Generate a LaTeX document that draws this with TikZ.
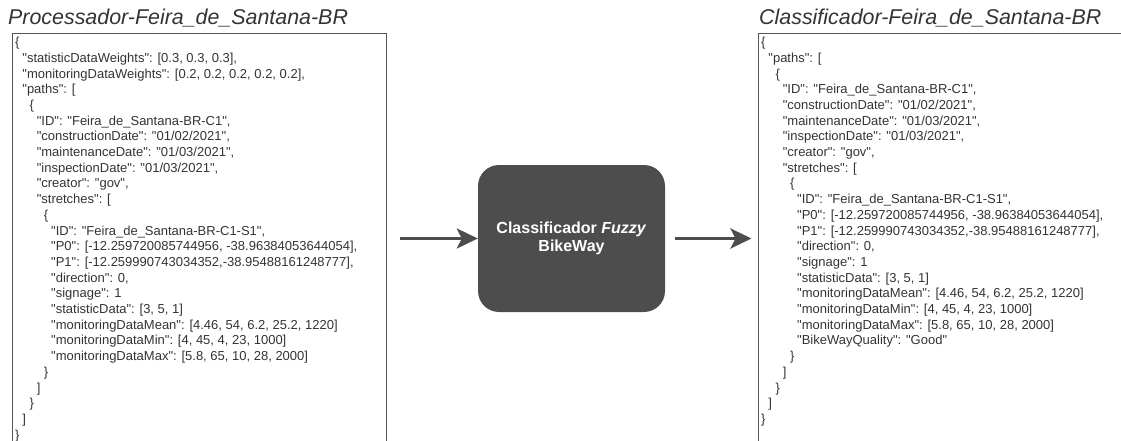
\documentclass[tikz,border=0pt]{standalone}
\usepackage{fontspec}
\usetikzlibrary{arrows.meta}
% plain family: keeps the straight ASCII quotes of the JSON text
\newfontfamily\jsonfont{Liberation Sans}
\definecolor{inkgray}{HTML}{333333}
\definecolor{framegray}{HTML}{555555}
\definecolor{blockgray}{HTML}{4D4D4D}
\newlength\jsonstep
\setlength\jsonstep{7.2pt}
\newcommand\lv[1]{\hspace*{#1\jsonstep}}
\begin{document}
\begin{tikzpicture}[x=1pt,y=-1pt,
  doctitle/.style={anchor=base west, inner sep=0pt, text=inkgray,
    font=\jsonfont\fontsize{21.4}{25}\selectfont\itshape},
  docframe/.style={draw=framegray, line width=1.3pt, anchor=north west,
    inner sep=0pt, minimum width=#1, minimum height=440pt},
  jsontext/.style={anchor=north west, inner sep=0pt, align=left, text=inkgray,
    font=\jsonfont\fontsize{13}{15.7}\selectfont},
  engine/.style={fill=blockgray, rounded corners=21pt, minimum width=187pt,
    minimum height=147pt, inner sep=0pt, align=center, text=white,
    font=\jsonfont\fontsize{16}{18.3}\selectfont\bfseries},
  flow/.style={draw=blockgray, line width=3.3pt,
    -{Stealth[length=21pt, width=20pt, inset=5pt]}}
]
\useasboundingbox (0,0) rectangle (1121,441);
\clip (0,0) rectangle (1121,441);

% document titles
\node[doctitle] (ltitle) at (8,25) {Processador-Feira\_de\_Santana-BR};
\node[doctitle] (rtitle) at (759,25) {Classificador-Feira\_de\_Santana-BR};

% document frames (run past the lower and right edges)
\node[docframe=374pt] (lbox) at (11.5,33) {};
\node[docframe=380pt] (rbox) at (757.5,33) {};

% input document
\node[jsontext] (ltext) at (15,36.4) {\rule{0pt}{10pt}\{\\
\lv{1}"statisticDataWeights": [0.3, 0.3, 0.3],\\
\lv{1}"monitoringDataWeights": [0.2, 0.2, 0.2, 0.2, 0.2],\\
\lv{1}"paths": [\\
\lv{2}\{\\
\lv{3}"ID": "Feira\_de\_Santana-BR-C1",\\
\lv{3}"constructionDate": "01/02/2021",\\
\lv{3}"maintenanceDate": "01/03/2021",\\
\lv{3}"inspectionDate": "01/03/2021",\\
\lv{3}"creator": "gov",\\
\lv{3}"stretches": [\\
\lv{4}\{\\
\lv{5}"ID": "Feira\_de\_Santana-BR-C1-S1",\\
\lv{5}"P0": [-12.259720085744956, -38.96384053644054],\\
\lv{5}"P1": [-12.259990743034352,-38.95488161248777],\\
\lv{5}"direction": 0,\\
\lv{5}"signage": 1\\
\lv{5}"statisticData": [3, 5, 1]\\
\lv{5}"monitoringDataMean": [4.46, 54, 6.2, 25.2, 1220]\\
\lv{5}"monitoringDataMin": [4, 45, 4, 23, 1000]\\
\lv{5}"monitoringDataMax": [5.8, 65, 10, 28, 2000]\\
\lv{4}\}\\
\lv{3}]\\
\lv{2}\}\\
\lv{1}]\\
\}};

% classified document
\node[jsontext] (rtext) at (761,36.4) {\rule{0pt}{10pt}\{\\
\lv{1}"paths": [\\
\lv{2}\{\\
\lv{3}"ID": "Feira\_de\_Santana-BR-C1",\\
\lv{3}"constructionDate": "01/02/2021",\\
\lv{3}"maintenanceDate": "01/03/2021",\\
\lv{3}"inspectionDate": "01/03/2021",\\
\lv{3}"creator": "gov",\\
\lv{3}"stretches": [\\
\lv{4}\{\\
\lv{5}"ID": "Feira\_de\_Santana-BR-C1-S1",\\
\lv{5}"P0": [-12.259720085744956, -38.96384053644054],\\
\lv{5}"P1": [-12.259990743034352,-38.95488161248777],\\
\lv{5}"direction": 0,\\
\lv{5}"signage": 1\\
\lv{5}"statisticData": [3, 5, 1]\\
\lv{5}"monitoringDataMean": [4.46, 54, 6.2, 25.2, 1220]\\
\lv{5}"monitoringDataMin": [4, 45, 4, 23, 1000]\\
\lv{5}"monitoringDataMax": [5.8, 65, 10, 28, 2000]\\
\lv{5}"BikeWayQuality": "Good"\\
\lv{4}\}\\
\lv{3}]\\
\lv{2}\}\\
\lv{1}]\\
\}};

% fuzzy classifier
\node[engine] (cls) at (571.5,238.5) {Classificador \textit{Fuzzy}\\BikeWay};

% data flow
\path (lbox.east |- cls.west) ++(13.5,0) coordinate (inL);
\path (cls.east) ++(10,0) coordinate (outL);
\path (rbox.west |- cls.east) ++(-6,0) coordinate (outR);
\draw[flow] (inL) -- (cls.west);
\draw[flow] (outL) -- (outR);
\end{tikzpicture}
\end{document}
